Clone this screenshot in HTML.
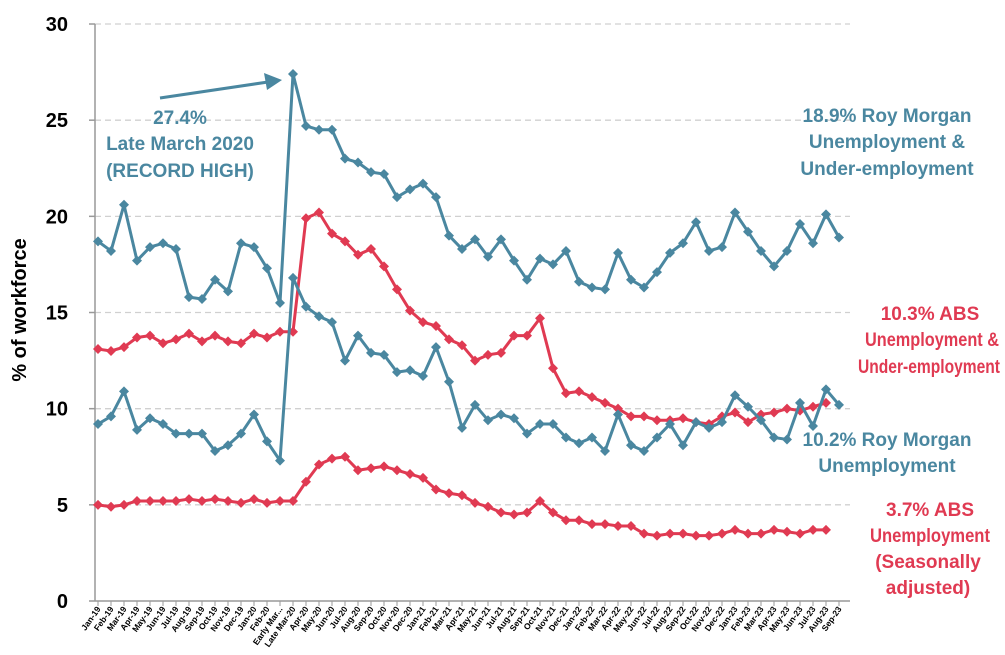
<!DOCTYPE html>
<html><head><meta charset="utf-8"><style>
body{margin:0;background:#fff}
svg{display:block;font-family:"Liberation Sans",sans-serif;font-weight:bold}
</style></head><body>
<svg id="c" width="1005" height="655" viewBox="0 0 1005 655" xmlns="http://www.w3.org/2000/svg">
<g id="grid"></g>
<line x1="95" y1="24" x2="95" y2="601" stroke="#999" stroke-width="1.5"/>
<line x1="95" y1="601" x2="850" y2="601" stroke="#999" stroke-width="1.5"/>
<text x="26" y="310" font-size="20" text-anchor="middle" transform="rotate(-90 26 310)" fill="#000">% of workforce</text>
<g id="series"></g>
<g id="xl" font-size="8.5" fill="#000"></g>
<g font-size="19" fill="#4a87a0" text-anchor="middle">
<text x="180" y="124">27.4%</text>
<text x="180" y="150">Late March 2020</text>
<text x="180" y="177">(RECORD HIGH)</text>
<text x="887" y="122">18.9% Roy Morgan</text>
<text x="887" y="148">Unemployment &amp;</text>
<text x="887" y="175">Under-employment</text>
<text x="887" y="446">10.2% Roy Morgan</text>
<text x="887" y="472">Unemployment</text>
</g>
<g font-size="19" fill="#e03a52" text-anchor="middle" lengthAdjust="spacingAndGlyphs">
<text x="930" y="320">10.3% ABS</text>
<text x="932" y="346" textLength="134" lengthAdjust="spacingAndGlyphs">Unemployment &amp;</text>
<text x="929" y="373" textLength="142" lengthAdjust="spacingAndGlyphs">Under-employment</text>
<text x="930" y="516">3.7% ABS</text>
<text x="930" y="542" textLength="120" lengthAdjust="spacingAndGlyphs">Unemployment</text>
<text x="928" y="568">(Seasonally</text>
<text x="928" y="594">adjusted)</text>
</g>
<line x1="160" y1="98" x2="268" y2="82" stroke="#4a87a0" stroke-width="3"/>
<polygon points="282,80 264,73 267,90" fill="#4a87a0"/>
</svg>
<script>
const NS="http://www.w3.org/2000/svg";
const X=i=>98+i*13, Y=v=>601-v*19.233;
function el(t,a,p,txt){const e=document.createElementNS(NS,t);for(const k in a)e.setAttribute(k,a[k]);if(txt!=null)e.textContent=txt;p.appendChild(e);return e;}
const g=document.getElementById('grid');
for(let v=0;v<=30;v+=5){const y=Y(v);
 if(v>0)el('line',{x1:95,x2:850,y1:y,y2:y,stroke:'#d0d0d0','stroke-dasharray':'6,4','stroke-width':1.3},g);
 el('line',{x1:89,x2:95,y1:y,y2:y,stroke:'#999','stroke-width':1.5},g);
 el('text',{x:68,y:y+7,'font-size':20,'text-anchor':'end',fill:'#000'},g,v);}
const A=[18.7,18.2,20.6,17.7,18.4,18.6,18.3,15.8,15.7,16.7,16.1,18.6,18.4,17.3,15.5,27.4,24.7,24.5,24.5,23.0,22.8,22.3,22.2,21.0,21.4,21.7,21.0,19.0,18.3,18.8,17.9,18.8,17.7,16.7,17.8,17.5,18.2,16.6,16.3,16.2,18.1,16.7,16.3,17.1,18.1,18.6,19.7,18.2,18.4,20.2,19.2,18.2,17.4,18.2,19.6,18.6,20.1,18.9];
const B=[9.2,9.6,10.9,8.9,9.5,9.2,8.7,8.7,8.7,7.8,8.1,8.7,9.7,8.3,7.3,16.8,15.3,14.8,14.5,12.5,13.8,12.9,12.8,11.9,12.0,11.7,13.2,11.4,9.0,10.2,9.4,9.7,9.5,8.7,9.2,9.2,8.5,8.2,8.5,7.8,9.7,8.1,7.8,8.5,9.2,8.1,9.3,9.0,9.3,10.7,10.1,9.4,8.5,8.4,10.3,9.1,11.0,10.2];
const C=[13.1,13.0,13.2,13.7,13.8,13.4,13.6,13.9,13.5,13.8,13.5,13.4,13.9,13.7,14.0,14.0,19.9,20.2,19.1,18.7,18.0,18.3,17.4,16.2,15.1,14.5,14.3,13.6,13.3,12.5,12.8,12.9,13.8,13.8,14.7,12.1,10.8,10.9,10.6,10.3,10.0,9.6,9.6,9.4,9.4,9.5,9.3,9.2,9.6,9.8,9.3,9.7,9.8,10.0,9.9,10.1,10.3];
const D=[5.0,4.9,5.0,5.2,5.2,5.2,5.2,5.3,5.2,5.3,5.2,5.1,5.3,5.1,5.2,5.2,6.2,7.1,7.4,7.5,6.8,6.9,7.0,6.8,6.6,6.4,5.8,5.6,5.5,5.1,4.9,4.6,4.5,4.6,5.2,4.6,4.2,4.2,4.0,4.0,3.9,3.9,3.5,3.4,3.5,3.5,3.4,3.4,3.5,3.7,3.5,3.5,3.7,3.6,3.5,3.7,3.7];
const s=document.getElementById('series');
function draw(d,c){el('polyline',{points:d.map((v,i)=>X(i)+','+Y(v)).join(' '),fill:'none',stroke:c,'stroke-width':3,'stroke-linejoin':'round'},s);
 d.forEach((v,i)=>{const x=X(i),y=Y(v);el('polygon',{points:`${x},${y-5} ${x+5},${y} ${x},${y+5} ${x-5},${y}`,fill:c},s);});}
draw(D,'#e03a52');draw(C,'#e03a52');draw(B,'#4a87a0');draw(A,'#4a87a0');
const L=["Jan-19","Feb-19","Mar-19","Apr-19","May-19","Jun-19","Jul-19","Aug-19","Sep-19","Oct-19","Nov-19","Dec-19","Jan-20","Feb-20","Early Mar...","Late Mar-20"];
const M=["Jan","Feb","Mar","Apr","May","Jun","Jul","Aug","Sep","Oct","Nov","Dec"];
for(let y=20;y<=23;y++)for(let m=0;m<12;m++){if(y==20&&m<3)continue;if(y==23&&m>8)continue;L.push(M[m]+"-"+y);}
const xl=document.getElementById('xl');
L.forEach((t,i)=>{const x=X(i);el('line',{x1:x,x2:x,y1:601,y2:606,stroke:'#999'},s);
 el('text',{x:x+3,y:609,'text-anchor':'end',transform:`rotate(-55 ${x+3} 609)`},xl,t);});
</script>
</body></html>
